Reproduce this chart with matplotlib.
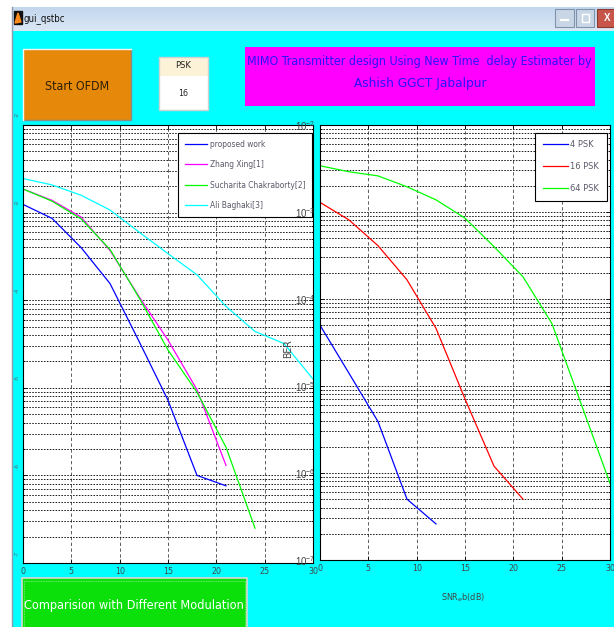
import os
import matplotlib
matplotlib.use('Agg')
import matplotlib.pyplot as plt
import numpy as np
from matplotlib.patches import Rectangle, Polygon
from matplotlib.ticker import LogLocator, NullFormatter, FixedLocator
from matplotlib import font_manager as fm

# ---------------- data ----------------
snr_db = [0, 3, 6, 9, 12, 15, 18, 21, 24, 27, 30]
x_ticks = [0, 5, 10, 15, 20, 25, 30]

left_labels = ['proposed work', 'Zhang Xing[1]', 'Sucharita Chakraborty[2]', 'Ali Baghaki[3]']
ber_proposed = [1.24e-3, 8.6e-4, 4.0e-4, 1.55e-4, 3.4e-5, 7.2e-6, 1.0e-6, 7.6e-7]
ber_zhang = [1.86e-3, 1.38e-3, 8.9e-4, 3.7e-4, 1.1e-4, 3.5e-5, 9.5e-6, 1.3e-6]
ber_sucharita = [1.86e-3, 1.35e-3, 8.5e-4, 3.8e-4, 1.07e-4, 2.7e-5, 8.9e-6, 2.1e-6, 2.5e-7]
ber_ali = [2.45e-3, 2.07e-3, 1.58e-3, 1.07e-3, 6.0e-4, 3.4e-4, 1.95e-4, 8.5e-5, 4.4e-5, 3.2e-5, 1.26e-5]

right_labels = ['4 PSK', '16 PSK', '64 PSK']
ber_4psk = [5.0e-5, 1.4e-5, 3.9e-6, 5.0e-7, 2.6e-7]
ber_16psk = [1.29e-3, 8.1e-4, 4.1e-4, 1.66e-4, 4.6e-5, 7.1e-6, 1.2e-6, 5.0e-7]
ber_64psk = [3.4e-3, 2.9e-3, 2.6e-3, 1.95e-3, 1.38e-3, 8.5e-4, 4.0e-4, 1.8e-4, 5.2e-5, 6.3e-6, 7.6e-7]

# ---------------- font: prefer an installed narrow / condensed face ----------------
narrow_path = None
cands = []
for f in fm.fontManager.ttflist:
    base = os.path.basename(f.fname).lower()
    if ('narrow' in base or 'condensed' in base) and 'bold' not in base and 'italic' not in base \
            and 'light' not in base and 'semi' not in base and 'extra' not in base \
            and 'black' not in base and 'medium' not in base and 'thin' not in base \
            and 'oblique' not in base and 'mono' not in base and 'serif' not in base:
        cands.append(f.fname)
pref = ['liberationsansnarrow-regular', 'dejavusanscondensed.', 'notosans-condensed.',
        'roboto_condensed-regular', 'robotocondensed-regular', 'opensans_condensed-regular']
for p in pref:
    for c in cands:
        if p in os.path.basename(c).lower():
            narrow_path = c
            break
    if narrow_path:
        break
if narrow_path is None and cands:
    narrow_path = sorted(cands)[0]

plt.rcParams['font.family'] = ['Liberation Sans', 'DejaVu Sans']


def FP(size):
    if narrow_path:
        return fm.FontProperties(fname=narrow_path, size=size)
    return fm.FontProperties(family=['Liberation Sans', 'DejaVu Sans'], size=size)


# ---------------- figure ----------------
W, H = 614, 627
fig = plt.figure(figsize=(W / 100, H / 100), dpi=100, facecolor='white')
renderer = fig.canvas.get_renderer()


def rect(x0, y0, x1, y1):
    return [x0 / W, 1 - y1 / H, (x1 - x0) / W, (y1 - y0) / H]


def fit(t, target_w):
    w = t.get_window_extent(renderer).width
    if w > 0:
        t.set_fontsize(t.get_fontsize() * target_w / w)
    return t


def size_for(s, target_w):
    t = fig.text(0, 0, s, fontproperties=FP(10))
    w = t.get_window_extent(renderer).width
    t.remove()
    return 10.0 * target_w / w


bg = fig.add_axes([0, 0, 1, 1])
bg.set_xlim(0, W)
bg.set_ylim(H, 0)
bg.axis('off')
bg.set_zorder(-5)

# window frame / title bar
bg.add_patch(Rectangle((12.5, 31), W - 12.5, H - 31, color='#00ffff', lw=0))
grad = np.linspace(0, 1, 50)[:, None]
c_top = np.array([0.76, 0.84, 0.93])
c_bot = np.array([0.86, 0.91, 0.96])
img = c_top + (c_bot - c_top) * grad[:, :, None]
img = np.repeat(img, 2, axis=1)
bg.imshow(img, extent=(12.5, W, 31, 7), aspect='auto', zorder=1)
bg.plot([12, 12], [7, H], color='#8a9bb0', lw=1.0)
bg.add_patch(Rectangle((14, 11), 8, 13, color='#111111', zorder=2))
bg.add_patch(Polygon([[15, 23], [18, 13], [21, 22]], closed=True, color='#ff8c1a', zorder=3))
fit(bg.text(23.5, 19, 'gui_qstbc', fontproperties=FP(7), va='center', ha='left',
            color='#111111', zorder=3), 42)
# window buttons
bg.add_patch(Rectangle((555, 9), 19, 18, facecolor='#c9d6e6', edgecolor='#7f93ad', lw=0.8, zorder=2))
bg.plot([561, 568], [20, 20], color='white', lw=1.6, zorder=3)
bg.add_patch(Rectangle((576, 9), 18, 18, facecolor='#c9d6e6', edgecolor='#7f93ad', lw=0.8, zorder=2))
bg.add_patch(Rectangle((581.5, 13.5), 7, 8, facecolor='none', edgecolor='#ffffff', lw=1.0, zorder=3))
bg.add_patch(Rectangle((597, 9), 20, 18, facecolor='#c8554a', edgecolor='#8a3a30', lw=0.8, zorder=2))
bg.text(607, 18, 'X', fontsize=7, color='white', ha='center', va='center', weight='bold', zorder=3)

# Start OFDM button
bg.add_patch(Rectangle((22.7, 49), 108.3, 71, facecolor='#e6890b', edgecolor='none', zorder=2))
bg.plot([22.7, 131, 131], [120, 120, 49], color='#8a8a8a', lw=1.0, zorder=3)
bg.plot([22.7, 22.7, 131], [120, 49, 49], color='#f4f4f4', lw=1.0, zorder=3)
fit(bg.text(77, 86, 'Start OFDM', fontproperties=FP(10), ha='center', va='center',
            color='#2e1f05', zorder=4), 64)

# PSK panel
bg.add_patch(Rectangle((158.7, 56.7), 49, 19.3, facecolor='#fcf2d8', edgecolor='none', zorder=2))
bg.add_patch(Rectangle((158.7, 76), 49, 34, facecolor='white', edgecolor='none', zorder=2))
bg.add_patch(Rectangle((158.7, 56.7), 49, 53.3, facecolor='none', edgecolor='#d0d0d0', lw=1.0, zorder=3))
fit(bg.text(183, 66, 'PSK', fontproperties=FP(6), ha='center', va='center', color='#222222',
            zorder=4), 16)
fit(bg.text(183, 93, '16', fontproperties=FP(6), ha='center', va='center', color='#222222',
            zorder=4), 10)

# title box
bg.add_patch(Rectangle((245, 46.7), 349.7, 59.3, facecolor='#ff00ff', edgecolor='none', zorder=2))
fit(bg.text(419.5, 62, 'MIMO Transmitter design Using New Time  delay Estimater by',
            fontproperties=FP(10), ha='center', va='center', color='#2a12ff', zorder=4), 344)
fit(bg.text(420, 83, 'Ashish GGCT Jabalpur', fontproperties=FP(10), ha='center', va='center',
            color='#2a12ff', zorder=4), 132)

# bottom green button
bg.add_patch(Rectangle((21.7, 578), 225, 55, facecolor='#0be00b', edgecolor='#d8d8d8', lw=1.2, zorder=2))
bg.add_patch(Rectangle((24, 580.5), 220.5, 50, facecolor='none', edgecolor='#8cf28c', lw=0.6,
                       ls=(0, (1, 1)), zorder=3))
fit(bg.text(134, 605, 'Comparision with Different Modulation', fontproperties=FP(10),
            ha='center', va='center', color='white', zorder=4), 220)

# clipped left-axis exponent fragments
y_top, y_bot = 125, 563
for k in range(2, 8):
    yk = y_top + (y_bot - y_top) * (k - 2) / 5.0 - 10
    bg.text(17, yk, '-%d' % k, fontsize=4, rotation=90, ha='center', va='center', color='#556070')

tick_size = size_for('25', 10)


def style_axes(ax):
    ax.set_xlim(0, 30)
    ax.set_ylim(1e-7, 1e-2)
    ax.set_yscale('log')
    ax.xaxis.set_major_locator(FixedLocator(x_ticks))
    ax.yaxis.set_major_locator(LogLocator(base=10, numticks=10))
    ax.yaxis.set_minor_locator(LogLocator(base=10, subs=np.arange(2, 10), numticks=20))
    ax.yaxis.set_minor_formatter(NullFormatter())
    ax.set_facecolor('white')
    ax.grid(True, which='major', axis='x', ls=(0, (4, 3)), color='#444444', lw=0.6)
    ax.grid(True, which='both', axis='y', ls=(0, (1.6, 1.4)), color='#1a1a1a', lw=0.7)
    ax.tick_params(which='both', direction='in', top=True, right=True, labelsize=7,
                   colors='#000000', labelcolor='#444444', width=0.6)
    ax.tick_params(which='major', length=3, pad=3)
    ax.tick_params(which='minor', length=1.5)
    for lab in ax.get_xticklabels():
        lab.set_fontproperties(FP(tick_size))
    for s in ax.spines.values():
        s.set_linewidth(0.8)
        s.set_color('#000000')


leg_size = size_for('Sucharita Chakraborty[2]', 96)
leg_size_r = size_for('16 PSK', 29)

# ---------------- left plot ----------------
axL = fig.add_axes(rect(23, 125, 313, 563))
style_axes(axL)
axL.tick_params(axis='y', labelleft=False)
left_series = [ber_proposed, ber_zhang, ber_sucharita, ber_ali]
left_colors = ['#0000ff', '#ff00ff', '#00ff00', '#00ffff']
for vals, col, lab in zip(left_series, left_colors, left_labels):
    axL.plot(snr_db[:len(vals)], vals, color=col, lw=0.9, label=lab)
legL = axL.legend(loc='upper right', bbox_to_anchor=(312.3 / W, 1 - 133.3 / H),
                  bbox_transform=fig.transFigure, prop=FP(leg_size), frameon=True, fancybox=False,
                  edgecolor='#000000', framealpha=1, borderaxespad=0, borderpad=0.8,
                  labelspacing=1.35, handlelength=2.7, handletextpad=0.3)
legL.get_frame().set_linewidth(0.8)
for t in legL.get_texts():
    t.set_color('#5a5a6a')

# ---------------- right plot ----------------
axR = fig.add_axes(rect(320, 125, 610, 560))
style_axes(axR)
right_series = [ber_4psk, ber_16psk, ber_64psk]
right_colors = ['#0000ff', '#ff0000', '#00ff00']
for vals, col, lab in zip(right_series, right_colors, right_labels):
    axR.plot(snr_db[:len(vals)], vals, color=col, lw=0.9, label=lab)
xl = axR.set_xlabel(r'SNR$_e$b(dB)', color='#444444')
xl.set_fontproperties(FP(size_for('SNReb(dB)', 44)))
axR.xaxis.set_label_coords(0.493, -0.073)
yl = axR.set_ylabel('BER', color='#444444')
yl.set_fontproperties(FP(size_for('BER', 19)))
axR.yaxis.set_label_coords(-0.093, 0.485)
legR = axR.legend(loc='upper right', bbox_to_anchor=(606.7 / W, 1 - 132.7 / H),
                  bbox_transform=fig.transFigure, prop=FP(leg_size_r), frameon=True, fancybox=False,
                  edgecolor='#000000', framealpha=1, borderaxespad=0, borderpad=0.8,
                  labelspacing=1.4, handlelength=2.7, handletextpad=0.3)
legR.get_frame().set_linewidth(0.8)
for t in legR.get_texts():
    t.set_color('#5a5a6a')

fig.savefig('out.png', dpi=100, facecolor='white')
